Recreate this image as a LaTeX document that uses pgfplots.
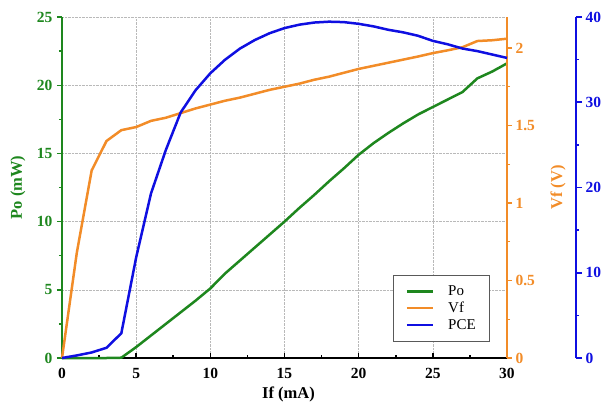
\documentclass[border=0pt]{standalone}
\usepackage{fontspec}
\setmainfont{Liberation Serif}
\usepackage{pgfplots}
\usepackage{pgfplotstable}
\pgfplotsset{compat=1.18}
\definecolor{cG}{RGB}{30,135,30}
\definecolor{cO}{RGB}{242,140,40}
\definecolor{cB}{RGB}{15,15,225}

\pgfplotstableread{
I Po
0 0
1 0
2 0
3 0
4 0.02
5 0.8
6 1.65
7 2.5
8 3.35
9 4.2
10 5.1
11 6.2
12 7.15
13 8.1
14 9.05
15 10.0
16 11.0
17 11.95
18 12.95
19 13.9
20 14.9
21 15.75
22 16.5
23 17.2
24 17.85
25 18.4
26 18.95
27 19.5
28 20.5
29 21.0
30 21.6
}\tPo

\pgfplotstableread{
I Vf
0 0
1 0.68
2 1.21
3 1.40
4 1.47
5 1.49
6 1.53
7 1.55
8 1.58
9 1.61
10 1.635
11 1.66
12 1.68
13 1.705
14 1.73
15 1.75
16 1.77
17 1.795
18 1.815
19 1.84
20 1.865
21 1.885
22 1.905
23 1.925
24 1.945
25 1.967
26 1.985
27 2.005
28 2.045
29 2.05
30 2.06
}\tVf

\pgfplotstableread{
I PCE
0 0
1 0.3
2 0.65
3 1.2
4 2.9
5 11.8
6 19.3
7 24.4
8 28.8
9 31.4
10 33.4
11 35.0
12 36.3
13 37.3
14 38.1
15 38.7
16 39.1
17 39.35
18 39.45
19 39.4
20 39.2
21 38.9
22 38.5
23 38.2
24 37.8
25 37.2
26 36.8
27 36.3
28 36.0
29 35.6
30 35.2
}\tPCE

\pgfplotsset{
  base/.style={
    at={(0,0)}, anchor=south west, scale only axis,
    height=341pt, ymin=0, clip=false,
    tick align=outside,
    /pgf/number format/assume math mode=true,
    ticklabel style={font=\bfseries\fontsize{15.5}{17}\selectfont},
    label style={font=\bfseries\fontsize{16.5}{18}\selectfont},
  }
}

\begin{document}
\begin{tikzpicture}[x=1pt,y=1pt]
\useasboundingbox (-62,-47) rectangle (544,358);

% main axis: Po
\begin{axis}[base,
  width=445pt, xmin=0, xmax=30, ymax=25,
  axis x line*=bottom, axis y line*=left,
  xtick={0,5,...,30}, ytick={0,5,...,25},
  minor x tick num=1, minor y tick num=1,
  major tick length=5pt, minor tick length=3pt,
  every major x tick/.append style={yshift=5pt},
  every minor x tick/.append style={yshift=3pt},
  grid=major, major grid style={densely dotted, gray!55, line width=0.6pt},
  x axis line style={black, line width=1.3pt, -},
  y axis line style={cG, line width=1.6pt, -},
  xtick style={black, line width=1.6pt},
  ytick style={cG, line width=1.4pt},
  yticklabel style={cG, xshift=-1pt},
  xticklabel style={black, yshift=-2pt},
  xlabel={If (mA)}, ylabel={Po (mW)},
  xlabel style={at={(axis description cs:0.5,0)}, anchor=center, yshift=-36pt, xshift=4pt, black},
  ylabel style={at={(axis description cs:-0.0989,0.5)}, anchor=center, cG},
  legend style={at={(axis description cs:0.9618,0.047)}, anchor=south east,
    draw=gray!70!black, line width=0.6pt, fill=white,
    font=\fontsize{15}{17}\selectfont, inner xsep=12pt, inner ysep=9pt,
    row sep=1pt},
  legend cell align=left,
  legend image code/.code={\draw[#1, line width=2.4pt] (0pt,0pt) -- (26pt,0pt); \path (38pt,0pt);},
]
\addplot[cG, line width=2.5pt] table[x=I, y=Po] {\tPo};
\addlegendentry{Po}
\addlegendimage{cO, line width=2.5pt}
\addlegendentry{Vf}
\addlegendimage{cB, line width=2.5pt}
\addlegendentry{PCE}
\end{axis}

% Vf axis
\begin{axis}[base,
  width=445pt, xmin=0, xmax=30, ymax=2.2,
  axis x line=none, axis y line*=right,
  ytick={0,0.5,...,2}, minor y tick num=1,
  major tick length=5pt, minor tick length=3pt,
  y axis line style={cO, line width=1.6pt, -},
  ytick style={cO, line width=1.4pt},
  yticklabel style={cO},
  ylabel={Vf (V)},
  ylabel style={at={(axis description cs:1.1146,0.5)}, anchor=center, cO},
]
\addplot[cO, line width=2.5pt] table[x=I, y=Vf] {\tVf};
\end{axis}

% PCE axis
\begin{axis}[base,
  width=514pt, xmin=0, xmax=34.652, ymax=40,
  axis x line=none, axis y line*=right,
  ytick={0,10,...,40}, minor y tick num=1,
  major tick length=6pt, minor tick length=3pt,
  y axis line style={cB, line width=1.8pt, -},
  ytick style={cB, line width=1.6pt},
  yticklabel style={cB},
]
\addplot[cB, line width=2.5pt] table[x=I, y=PCE] {\tPCE};
\end{axis}
\end{tikzpicture}
\end{document}
